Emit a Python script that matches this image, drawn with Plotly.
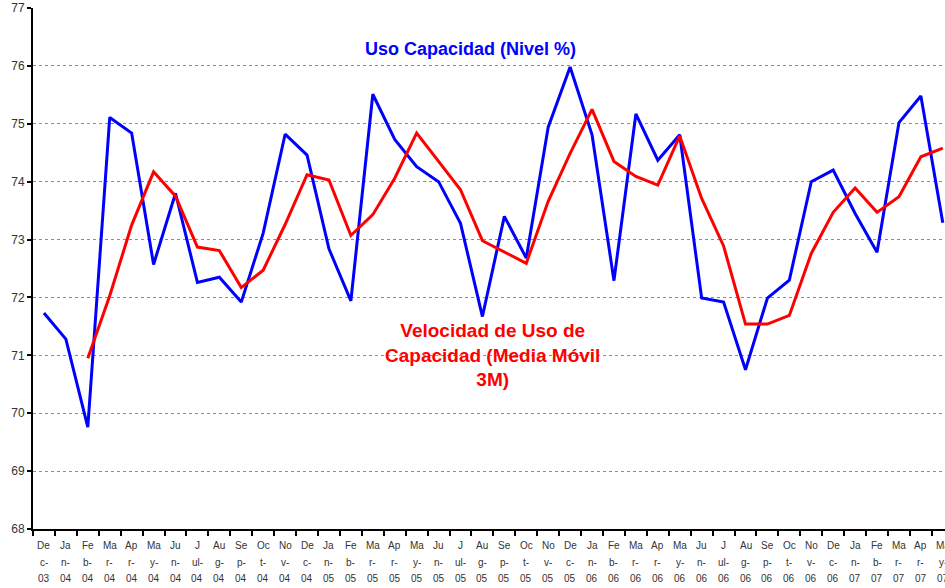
import plotly.graph_objects as go

months = ["Dec-03", "Jan-04", "Feb-04", "Mar-04", "Apr-04", "May-04", "Jun-04", "Jul-04", "Aug-04", "Sep-04",
          "Oct-04", "Nov-04", "Dec-04", "Jan-05", "Feb-05", "Mar-05", "Apr-05", "May-05", "Jun-05", "Jul-05",
          "Aug-05", "Sep-05", "Oct-05", "Nov-05", "Dec-05", "Jan-06", "Feb-06", "Mar-06", "Apr-06", "May-06",
          "Jun-06", "Jul-06", "Aug-06", "Sep-06", "Oct-06", "Nov-06", "Dec-06", "Jan-07", "Feb-07", "Mar-07",
          "Apr-07", "May-07"]

uso_capacidad = [71.73, 71.28, 69.76, 75.11, 74.84, 72.57, 73.80, 72.26, 72.35, 71.92,
                 73.11, 74.82, 74.46, 72.84, 71.94, 75.51, 74.73, 74.26, 74.00, 73.28,
                 71.67, 73.40, 72.68, 74.94, 75.98, 74.81, 72.29, 75.17, 74.37, 74.81,
                 71.99, 71.92, 70.75, 71.99, 72.30, 74.00, 74.20, 73.45, 72.78, 75.02,
                 75.48, 73.29]

media_movil_3m = [None, None, 70.95, 72.03, 73.25, 74.17, 73.75, 72.87, 72.81, 72.17,
                  72.47, 73.26, 74.12, 74.03, 73.07, 73.43, 74.06, 74.84, 74.35, 73.86,
                  72.98, 72.79, 72.59, 73.66, 74.49, 75.25, 74.35, 74.09, 73.94, 74.79,
                  73.71, 72.89, 71.54, 71.54, 71.69, 72.76, 73.47, 73.89, 73.47, 73.74,
                  74.43, 74.58]

# how the month names wrap in the original tick labels (three rows per tick)
month_wrap = {"Jan": ("Ja", "n-"), "Feb": ("Fe", "b-"), "Mar": ("Ma", "r-"), "Apr": ("Ap", "r-"),
              "May": ("Ma", "y-"), "Jun": ("Ju", "n-"), "Jul": ("J", "ul-"), "Aug": ("Au", "g-"),
              "Sep": ("Se", "p-"), "Oct": ("Oc", "t-"), "Nov": ("No", "v-"), "Dec": ("De", "c-")}

y_ticks = list(range(68, 78))

fig = go.Figure()
fig.add_trace(go.Scatter(x=months, y=uso_capacidad, mode="lines",
                         line=dict(color="#0000FF", width=3), name="Uso Capacidad (Nivel %)"))
fig.add_trace(go.Scatter(x=months, y=media_movil_3m, mode="lines",
                         line=dict(color="#FF0000", width=3), name="Velocidad de Uso de Capacidad (Media Móvil 3M)"))

fig.add_annotation(x="Jul-05", y=76.29, xref="x", yref="y", text="<b>Uso Capacidad (Nivel %)</b>",
                   showarrow=False, font=dict(family="Liberation Sans, Arial", size=18, color="#0000FF"),
                   xshift=10)
fig.add_annotation(x="Aug-05", y=71.01, xref="x", yref="y",
                   text="<b>Velocidad de Uso de<br>Capacidad (Media Móvil<br>3M)</b>",
                   showarrow=False, align="center",
                   font=dict(family="Liberation Sans, Arial", size=19, color="#FF0000"),
                   xshift=10)

# x tick labels: three wrapped rows under each category
row_shifts = [-16, -33, -49]
for m in months:
    top, mid = month_wrap[m[:3]]
    for txt, ys in zip((top, mid, m[4:]), row_shifts):
        fig.add_annotation(x=m, y=0, xref="x", yref="paper", text=txt, showarrow=False,
                           yanchor="middle", yshift=ys,
                           font=dict(family="Liberation Sans, Arial", size=10, color="#333333"))

fig.update_layout(
    width=945, height=588,
    margin=dict(l=33, r=0, t=8, b=59),
    paper_bgcolor="white", plot_bgcolor="white",
    showlegend=False,
    font=dict(family="Liberation Sans, Arial", color="#222222"),
)
fig.update_xaxes(
    type="category", range=[-0.5, 41.1], automargin=False,
    tickvals=months, showticklabels=False,
    ticks="outside", tickson="boundaries", ticklen=5, tickcolor="black", tickwidth=1.5,
    showline=True, linecolor="black", linewidth=1.5,
    showgrid=False, zeroline=False,
)
fig.update_yaxes(
    range=[68, 77], tickvals=y_ticks, automargin=False,
    tickfont=dict(size=12, family="Liberation Sans, Arial", color="#333333"),
    ticks="outside", ticklen=4, tickcolor="black", tickwidth=1.5,
    showline=True, linecolor="black", linewidth=2,
    showgrid=True, gridcolor="#8c8c8c", gridwidth=1, griddash="dot",
    zeroline=False,
)

fig.write_html("out.html", config={"displayModeBar": False},
               post_script="document.body.style.margin='0px';")
